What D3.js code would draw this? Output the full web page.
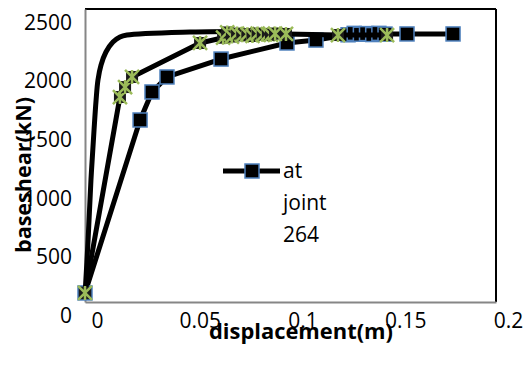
<!DOCTYPE html>
<html>
<head>
<meta charset="utf-8">
<script src="https://cdn.jsdelivr.net/npm/d3@7"></script>
<style>
  body { margin: 0; background: #fff; }
  svg { display: block; }
  text { font-family: "Open Sans", Lato, sans-serif; fill: #000; }
</style>
</head>
<body>
<div id="chart"></div>
<script>
  // curve without markers
  var dispA = [0, 0.0015, 0.0029, 0.0044, 0.0054, 0.0063, 0.0078, 0.0102, 0.0136, 0.0170, 0.0204, 0.0511, 0.0998];
  var shearA = [60, 529, 1041, 1468, 1723, 1894, 2022, 2133, 2218, 2261, 2278, 2304, 2312];

  // green star markers
  var dispB = [0, 0.0170, 0.0195, 0.0229, 0.0560, 0.0672, 0.0692, 0.0715, 0.0740, 0.0765, 0.0790,
    0.0815, 0.0840, 0.0865, 0.0890, 0.0905, 0.0925, 0.0978, 0.1231, 0.1470];
  var shearB = [77, 1749, 1834, 1920, 2210, 2255, 2300, 2265, 2290, 2275, 2285,
    2270, 2290, 2280, 2285, 2280, 2290, 2287, 2278, 2278];

  // blue square markers ("at joint 264")
  var dispC = [0, 0.0268, 0.0326, 0.0399, 0.0662, 0.0983, 0.1124, 0.1280, 0.1310, 0.1340,
    0.1370, 0.1400, 0.1430, 0.1460, 0.1567, 0.1791];
  var shearC = [77, 1553, 1792, 1920, 2073, 2210, 2235, 2280, 2292, 2285,
    2290, 2282, 2292, 2286, 2287, 2287];

  var xTicks = [0, 0.05, 0.1, 0.15, 0.2];
  var yTicks = [0, 500, 1000, 1500, 2000, 2500];
  var legendLabel = ['at', 'joint', '264'];

  var margin = { top: 9, right: 32, bottom: 68, left: 85 };
  var W = 528, H = 370;
  var width = W - margin.left - margin.right,
    height = H - margin.top - margin.bottom;

  var green = '#9bbb59', blue = '#4f81bd';

  var svg = d3.select('#chart').append('svg')
    .attr('width', W)
    .attr('height', H);

  var g = svg.append('g')
    .attr('transform', 'translate(' + margin.left + ',' + margin.top + ')');

  var x = d3.scaleLinear().domain([0, 0.2]).range([0, width]);
  var y = d3.scaleLinear().domain([0, 2500]).range([height, 0]);

  // plot frame: top/right black, axes grey
  g.append('line').attr('x1', 0).attr('x2', width).attr('y1', 0).attr('y2', 0)
    .attr('stroke', '#000').attr('stroke-width', 2);
  g.append('line').attr('x1', width).attr('x2', width).attr('y1', 0).attr('y2', height)
    .attr('stroke', '#000').attr('stroke-width', 2);

  var xAxis = d3.axisBottom(x).tickValues(xTicks).tickSize(0)
    .tickFormat(function(d) { return d === 0 ? '0' : String(d); });
  var yAxis = d3.axisLeft(y).tickValues(yTicks).tickSize(0).tickFormat(d3.format('d'));

  var gx = g.append('g')
    .attr('transform', 'translate(0,' + height + ')')
    .call(xAxis);
  gx.select('.domain').attr('stroke', '#868686').attr('stroke-width', 2);
  gx.selectAll('text')
    .attr('font-size', 21)
    .attr('dy', 0)
    .attr('y', 26)
    .attr('dx', 12);

  var gy = g.append('g').call(yAxis);
  gy.select('.domain').attr('stroke', '#868686').attr('stroke-width', 2);
  gy.selectAll('text')
    .attr('font-size', 21)
    .attr('x', -13)
    .attr('dy', '0.35em')
    .attr('transform', 'translate(0,13)');
  svg.selectAll('.tick text').attr('font-family', '"Open Sans", Lato, sans-serif');

  var line = d3.line()
    .x(function(d) { return x(d[0]); })
    .y(function(d) { return y(d[1]); });

  var dataA = d3.zip(dispA, shearA),
    dataB = d3.zip(dispB, shearB),
    dataC = d3.zip(dispC, shearC);

  // series with squares
  g.append('path').datum(dataC)
    .attr('d', line).attr('fill', 'none')
    .attr('stroke', '#000').attr('stroke-width', 5).attr('stroke-linejoin', 'round');
  g.selectAll('.sq').data(dataC).enter().append('rect')
    .attr('class', 'sq')
    .attr('x', function(d) { return x(d[0]) - 7; })
    .attr('y', function(d) { return y(d[1]) - 7; })
    .attr('width', 14).attr('height', 14)
    .attr('fill', '#000').attr('stroke', blue).attr('stroke-width', 1.5);

  // series without markers
  g.append('path').datum(dataA)
    .attr('d', line.curve(d3.curveCatmullRom)).attr('fill', 'none')
    .attr('stroke', '#000').attr('stroke-width', 5).attr('stroke-linejoin', 'round');
  line.curve(d3.curveLinear);

  // series with stars (dark box behind each star)
  g.append('path').datum(dataB)
    .attr('d', line).attr('fill', 'none')
    .attr('stroke', '#000').attr('stroke-width', 5).attr('stroke-linejoin', 'round');
  var stars = g.selectAll('.star').data(dataB).enter().append('g')
    .attr('class', 'star')
    .attr('transform', function(d) { return 'translate(' + x(d[0]) + ',' + y(d[1]) + ')'; });
  stars.append('rect')
    .attr('x', -6).attr('y', -6).attr('width', 12).attr('height', 12)
    .attr('fill', '#1a1a1a');
  stars.append('path')
    .attr('d', 'M-7,-7L7,7M7,-7L-7,7M0,-7L0,7')
    .attr('fill', 'none').attr('stroke', green).attr('stroke-width', 2.5);

  // legend
  var lg = svg.append('g').attr('transform', 'translate(223,171)');
  lg.append('line').attr('x1', 0).attr('x2', 57).attr('y1', 0).attr('y2', 0)
    .attr('stroke', '#000').attr('stroke-width', 5);
  lg.append('rect').attr('x', 29 - 7).attr('y', -7).attr('width', 14).attr('height', 14)
    .attr('fill', '#000').attr('stroke', blue).attr('stroke-width', 1.5);
  lg.selectAll('text').data(legendLabel).enter().append('text')
    .attr('x', 60)
    .attr('y', function(d, i) { return i * 32; })
    .attr('dy', '0.35em')
    .attr('font-size', 21)
    .text(function(d) { return d; });

  // axis titles
  svg.append('text')
    .attr('x', 301).attr('y', 339)
    .attr('text-anchor', 'middle')
    .attr('font-size', 22).attr('font-weight', 'bold')
    .attr('textLength', 184).attr('lengthAdjust', 'spacingAndGlyphs')
    .text('displacement(m)');
  svg.append('text')
    .attr('transform', 'translate(31,175) rotate(-90)')
    .attr('text-anchor', 'middle')
    .attr('font-size', 22).attr('font-weight', 'bold')
    .attr('textLength', 156).attr('lengthAdjust', 'spacingAndGlyphs')
    .text('baseshear(kN)');
</script>
</body>
</html>
